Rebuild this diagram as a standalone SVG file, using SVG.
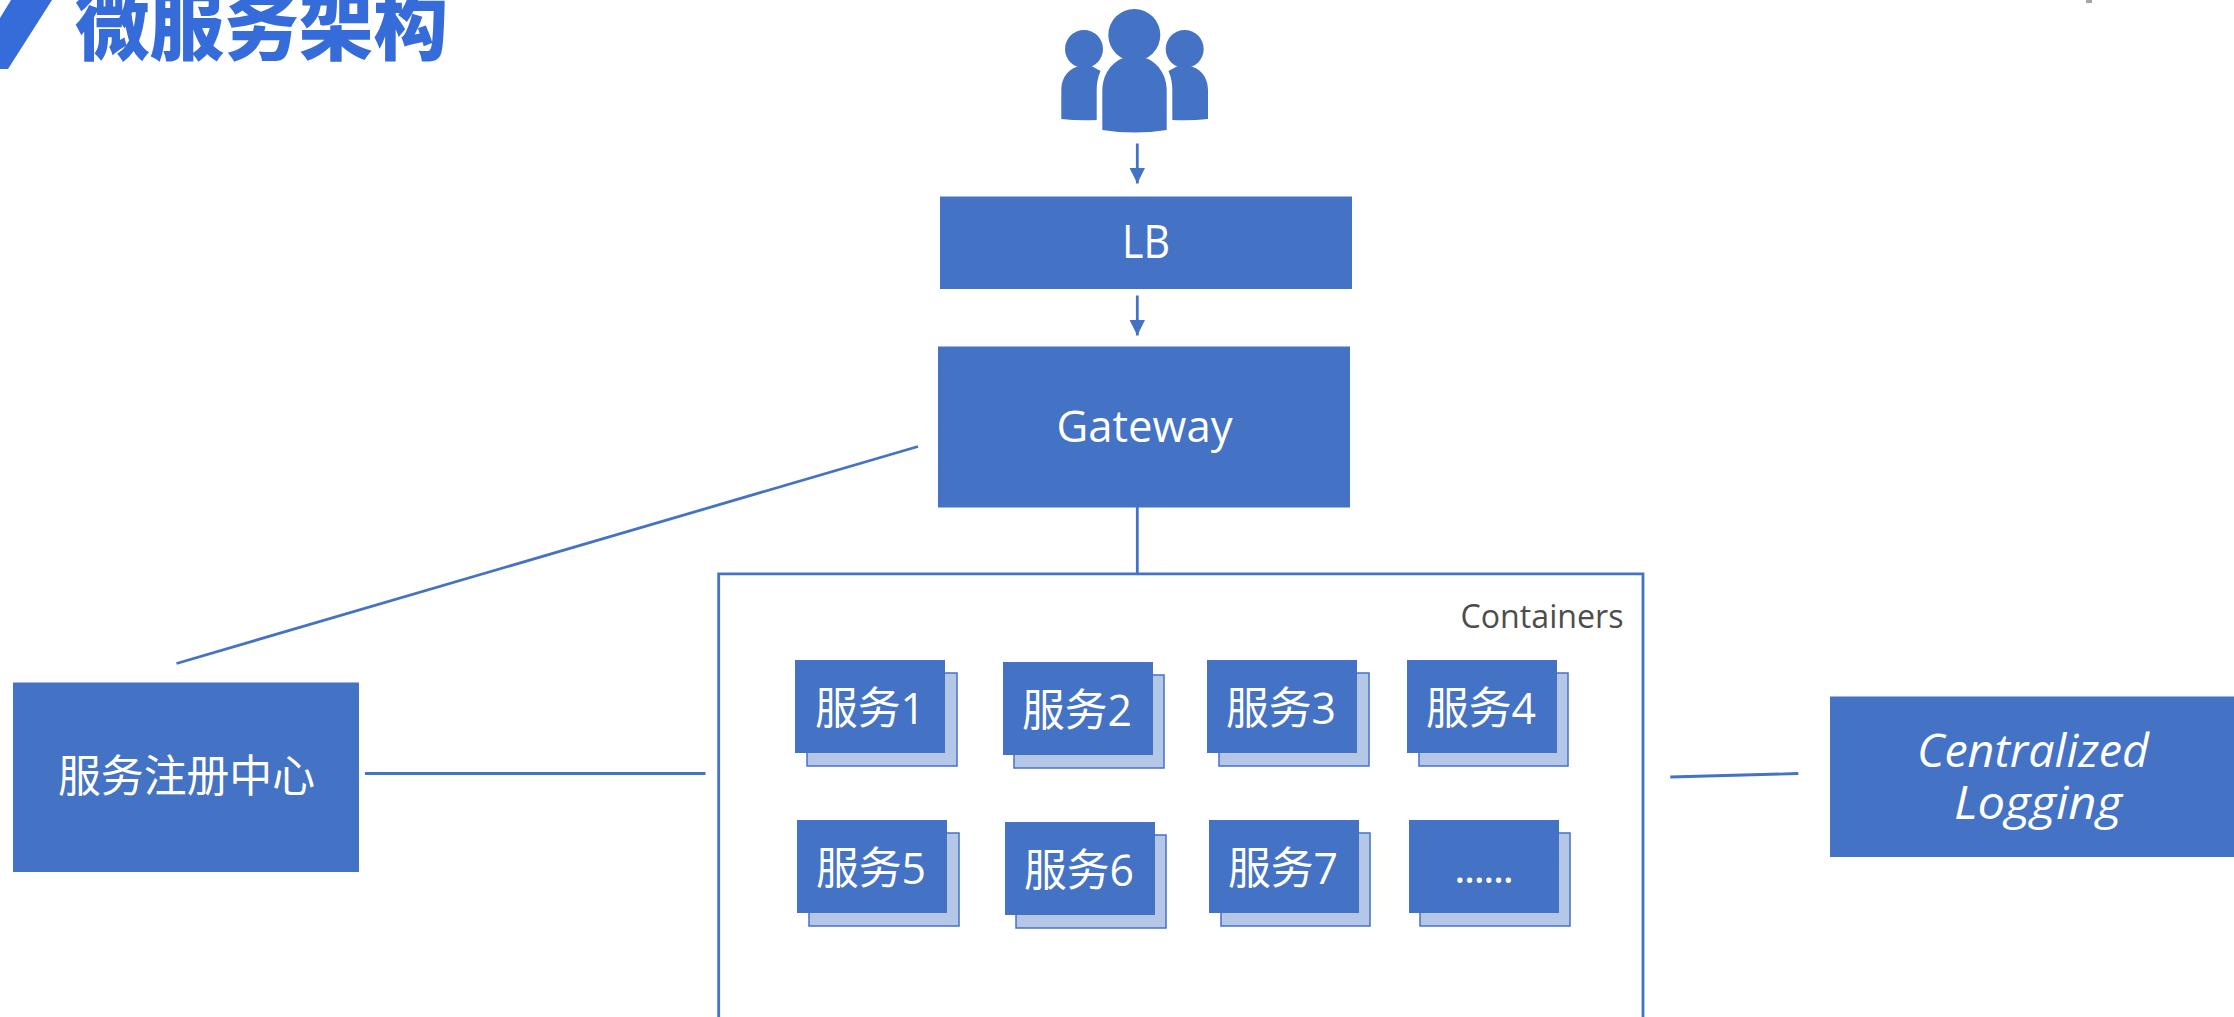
<svg xmlns="http://www.w3.org/2000/svg" width="2234" height="1017" viewBox="0 0 2234 1017">
<defs>
<style>
.box{fill:#4472C4}
.back{fill:#B4C7E7;stroke:#4472C4;stroke-width:1.5}
.t{font-family:"Open Sans","Noto Sans CJK SC",sans-serif;fill:#fff;font-size:44px;text-anchor:middle}
.cjk{font-family:"Noto Sans CJK SC","Open Sans",sans-serif;font-weight:400}
.svc{font-family:"Open Sans","Noto Sans CJK SC",sans-serif;font-weight:400}
.link{stroke:#4472C4;stroke-width:2.8;fill:none}
.title{font-family:"Noto Sans CJK SC",sans-serif;font-weight:900;font-size:76px;fill:#366CDA}
.it{font-size:45px;font-style:italic;font-weight:400}
</style>
<marker id="arrow" markerUnits="userSpaceOnUse" markerWidth="16" markerHeight="16" refX="16" refY="8" orient="auto"><path d="M0 0L16 8L0 16Z" fill="#4472C4"/></marker>
</defs>
<rect width="2234" height="1017" fill="#fff"/>
<g id="title">
<path d="M11 0H52L8 69H0V18Z" fill="#366CDA"/>
<text class="title" x="75" y="54" textLength="373" lengthAdjust="spacingAndGlyphs">微服务架构</text>
</g>
<rect id="corner-mark" x="2086" y="0" width="6" height="3" fill="#a6a6a6"/>
<g id="users" fill="#4472C4">
<circle cx="1084" cy="49" r="19"/>
<path d="M1061.300 119V90C1061.300 76 1070 68 1080 65.700H1091L1100.500 71C1097.500 78 1096.700 84 1096.700 90V120Q1078 121 1061.300 119Z"/>
<circle cx="1184.700" cy="49" r="19"/>
<path d="M1208 119V90C1208 76 1199.300 68 1189.300 65.700H1178.300L1168.500 71C1171.500 78 1172.300 84 1172.300 90V120Q1191 121 1208 119Z"/>
<circle cx="1134.300" cy="35" r="26"/>
<path d="M1102.300 130V91C1102.300 74 1112 62 1123.500 58H1145.500C1157 62 1166.700 74 1166.700 91V130Q1134.500 135 1102.300 130Z"/>
</g>
<g id="connectors">
<path class="link" marker-end="url(#arrow)" d="M1137.300 143.500V183.500"/>
<path class="link" marker-end="url(#arrow)" d="M1137.300 295.500V335.500"/>
<path class="link" d="M1137.300 507V573"/>
<path class="link" d="M918 446.500L176.500 663.500"/>
<path class="link" d="M365 773.500H705.500"/>
<path class="link" d="M1670.300 777L1798.300 773.500"/>
</g>
<g id="lb"><rect class="box" x="940" y="196.500" width="412" height="92.500"/><text class="t" x="1146" y="258" style="font-size:46px" textLength="48" lengthAdjust="spacingAndGlyphs">LB</text></g>
<g id="gateway"><rect class="box" x="938" y="346.500" width="412" height="161"/><text class="t" x="1144.500" y="441.500" textLength="176" lengthAdjust="spacingAndGlyphs">Gateway</text></g>
<g id="containers">
<path d="M718.700 1017V573.800H1643V1017" fill="none" stroke="#4472C4" stroke-width="2.800"/>
<text x="1623.500" y="628" font-family="Open Sans, Noto Sans, sans-serif" font-size="33" fill="#4d4d4d" text-anchor="end" textLength="163" lengthAdjust="spacingAndGlyphs">Containers</text>
</g>
<g id="registry"><rect class="box" x="13" y="682.500" width="346" height="189.500"/><text class="t cjk" x="186.500" y="791.500" textLength="257" lengthAdjust="spacingAndGlyphs">服务注册中心</text></g>
<g id="logging"><rect class="box" x="1830" y="696.500" width="404" height="160.500"/>
<text class="t it" x="2033" y="766.500" textLength="232" lengthAdjust="spacingAndGlyphs">Centralized</text>
<text class="t it" x="2038" y="818.500" textLength="168" lengthAdjust="spacingAndGlyphs">Logging</text></g>
<g id="service1"><rect class="back" x="807" y="673" width="150" height="93"/><rect class="box" x="795" y="660" width="150" height="93"/><text class="t svc" x="870" y="724" textLength="110" lengthAdjust="spacingAndGlyphs">服务1</text></g>
<g id="service2"><rect class="back" x="1014" y="675" width="150" height="93"/><rect class="box" x="1003" y="662" width="150" height="93"/><text class="t svc" x="1077" y="726" textLength="110" lengthAdjust="spacingAndGlyphs">服务2</text></g>
<g id="service3"><rect class="back" x="1219" y="673" width="150" height="93"/><rect class="box" x="1207" y="660" width="150" height="93"/><text class="t svc" x="1281" y="724" textLength="110" lengthAdjust="spacingAndGlyphs">服务3</text></g>
<g id="service4"><rect class="back" x="1419" y="673" width="149" height="93"/><rect class="box" x="1407" y="660" width="150" height="93"/><text class="t svc" x="1481" y="724" textLength="110" lengthAdjust="spacingAndGlyphs">服务4</text></g>
<g id="service5"><rect class="back" x="809" y="833" width="150" height="93"/><rect class="box" x="797" y="820" width="150" height="93"/><text class="t svc" x="871" y="884" textLength="110" lengthAdjust="spacingAndGlyphs">服务5</text></g>
<g id="service6"><rect class="back" x="1016" y="835" width="150" height="93"/><rect class="box" x="1005" y="822" width="150" height="93"/><text class="t svc" x="1079" y="886" textLength="110" lengthAdjust="spacingAndGlyphs">服务6</text></g>
<g id="service7"><rect class="back" x="1221" y="833" width="149" height="93"/><rect class="box" x="1209" y="820" width="150" height="93"/><text class="t svc" x="1283" y="884" textLength="110" lengthAdjust="spacingAndGlyphs">服务7</text></g>
<g id="service-more"><rect class="back" x="1420" y="833" width="150" height="93"/><rect class="box" x="1409" y="820" width="150" height="93"/><text class="t" x="1484" y="883" textLength="60">......</text></g>
</svg>
